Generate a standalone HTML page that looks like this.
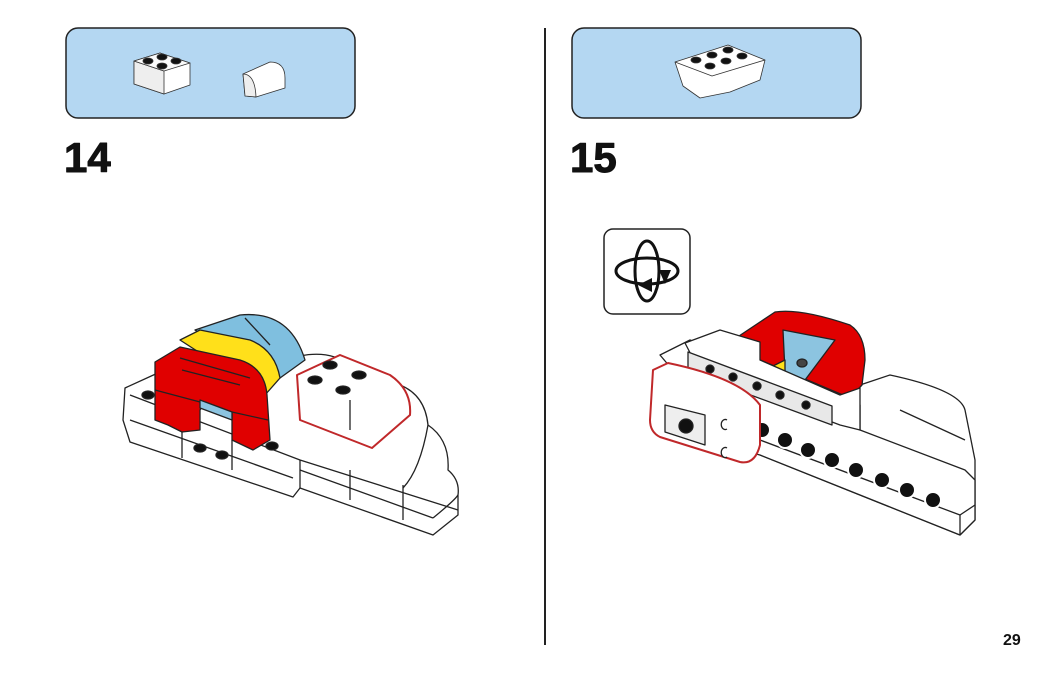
<!DOCTYPE html>
<html><head><meta charset="utf-8"><style>
html,body{margin:0;padding:0;background:#fff;}
svg{display:block;font-family:"Liberation Sans",sans-serif;}
</style></head><body>
<svg width="1050" height="673" viewBox="0 0 1050 673" xmlns="http://www.w3.org/2000/svg" stroke-linejoin="round">
<rect width="1050" height="673" fill="#fff"/>
<rect x="66" y="28" width="289" height="90" rx="12" fill="#b4d7f2" stroke="#222" stroke-width="1.5"/>
<rect x="572" y="28" width="289" height="90" rx="12" fill="#b4d7f2" stroke="#222" stroke-width="1.5"/>
<line x1="545" y1="28" x2="545" y2="645" stroke="#222" stroke-width="2"/>
<text x="64" y="172" font-size="42" font-weight="bold" fill="#111" stroke="#111" stroke-width="1">14</text>
<text x="570" y="172" font-size="42" font-weight="bold" fill="#111" stroke="#111" stroke-width="1">15</text>
<text x="1003" y="645" font-size="16" font-weight="bold" fill="#111">29</text>

<g stroke="#333" stroke-width="0.8">
<polygon points="134,61 160,53 190,63 190,85 164,94 134,84" fill="#fff"/>
<polygon points="134,61 164,71 164,94 134,84" fill="#eee"/>
<polygon points="134,61 160,53 190,63 164,71" fill="#fafafa"/>
<ellipse cx="148" cy="61" rx="5" ry="3" fill="#111"/><ellipse cx="162" cy="57" rx="5" ry="3" fill="#111"/>
<ellipse cx="162" cy="66" rx="5" ry="3" fill="#111"/><ellipse cx="176" cy="61" rx="5" ry="3" fill="#111"/>
<path d="M243,74 L270,62 Q285,62 285,78 L285,88 L256,97 L245,96 Z" fill="#fff"/>
<path d="M243,74 Q255,74 256,97 L245,96 Z" fill="#eee"/>
</g>
<g stroke="#333" stroke-width="0.8">
<polygon points="675,62 728,45 765,60 760,80 730,92 700,98 683,86" fill="#fff"/>
<polyline points="675,62 712,76 765,60" fill="none"/>
<ellipse cx="696" cy="60" rx="5" ry="3" fill="#111"/><ellipse cx="712" cy="55" rx="5" ry="3" fill="#111"/><ellipse cx="728" cy="50" rx="5" ry="3" fill="#111"/>
<ellipse cx="710" cy="66" rx="5" ry="3" fill="#111"/><ellipse cx="726" cy="61" rx="5" ry="3" fill="#111"/><ellipse cx="742" cy="56" rx="5" ry="3" fill="#111"/>
</g>

<!-- Model 14 -->
<g stroke="#222" stroke-width="1.3">
<path d="M125,388 L160,372 L300,356 Q330,350 350,365 L400,385 Q425,395 428,425 Q450,440 448,470 Q460,480 458,495 L458,515 L433,535 L300,488 L293,497 L130,442 L123,420 Z" fill="#fff"/>
<polyline points="130,395 300,460 458,510" fill="none"/>
<polyline points="130,420 293,478" fill="none"/>
<polyline points="300,470 433,518" fill="none"/>
<line x1="300" y1="460" x2="300" y2="488"/>
<line x1="350" y1="470" x2="350" y2="500"/>
<line x1="403" y1="485" x2="403" y2="520"/>
<line x1="182" y1="432" x2="182" y2="458"/>
<line x1="232" y1="440" x2="232" y2="470"/>
<path d="M403,488 Q420,470 428,425" fill="none"/>
<path d="M433,518 Q455,500 458,495" fill="none"/>
<path d="M195,330 L240,315 Q290,310 305,360 L280,378 Z" fill="#7fbfdf"/>
<path d="M180,340 L200,330 L250,340 Q275,350 280,378 L265,395 Z" fill="#ffe01a"/>
<line x1="245" y1="318" x2="270" y2="345"/>
<path d="M155,362 L180,347 L240,360 Q265,368 267,395 L270,440 L253,450 L232,440 L232,412 L205,402 L200,410 L200,430 L182,432 L168,425 L155,420 Z" fill="#e00000"/>
<polygon points="200,400 232,412 232,420 200,408" fill="#8cc4e0"/>
<line x1="180" y1="358" x2="250" y2="378"/>
<line x1="182" y1="370" x2="240" y2="385"/>
<line x1="155" y1="390" x2="200" y2="402"/>
<line x1="232" y1="412" x2="268" y2="420"/>
<path d="M297,375 L340,355 L390,375 Q412,390 410,415 L372,448 L300,420 Z" fill="#fff" stroke="#c0282a" stroke-width="2"/>
<line x1="350" y1="430" x2="350" y2="400"/>
<ellipse cx="330" cy="365" rx="7" ry="4" fill="#111"/><ellipse cx="359" cy="375" rx="7" ry="4" fill="#111"/>
<ellipse cx="315" cy="380" rx="7" ry="4" fill="#111"/><ellipse cx="343" cy="390" rx="7" ry="4" fill="#111"/>
<ellipse cx="148" cy="395" rx="6" ry="4" fill="#111"/>
<ellipse cx="200" cy="448" rx="6" ry="4" fill="#111"/>
<ellipse cx="222" cy="455" rx="6" ry="4" fill="#111"/>
<ellipse cx="272" cy="446" rx="6" ry="4" fill="#111"/>
</g>

<rect x="604" y="229" width="86" height="85" rx="9" fill="#fff" stroke="#222" stroke-width="1.5"/>
<g fill="none" stroke="#111" stroke-width="3">
<ellipse cx="647" cy="271" rx="31" ry="13"/>
<ellipse cx="647" cy="271" rx="12" ry="30"/>
</g>
<polygon points="659,270 671,270 665,284" fill="#111"/>
<polygon points="638,285 652,278 652,292" fill="#111"/>

<!-- Model 15 -->
<g stroke="#222" stroke-width="1.3">
<path d="M860,385 L890,375 Q960,390 965,410 L975,460 L975,520 L960,535 L760,455 L760,420 Z" fill="#fff"/>
<polygon points="660,355 690,340 860,405 860,430 965,470 975,480 975,520 960,535 760,455 740,450" fill="#fff"/>
<polyline points="760,440 960,515 975,505" fill="none"/>
<line x1="960" y1="515" x2="960" y2="535"/>
<line x1="900" y1="410" x2="965" y2="440" />
<path d="M736,338 L775,312 Q800,308 850,325 Q865,335 865,360 L862,385 L850,398 L760,360 Z" fill="#e00000"/>
<polygon points="783,330 835,340 805,380 785,372" fill="#8cc4e0"/>
<ellipse cx="802" cy="363" rx="5" ry="4" fill="#444"/>
<polygon points="765,370 785,360 785,372" fill="#ffe01a"/>
<polygon points="685,343 720,330 760,342 760,360 840,395 860,388 860,430 840,425 700,372" fill="#fff"/>
<polygon points="688,352 832,406 832,425 688,372" fill="#e8e8e8"/>
<g fill="#111">
<circle cx="710" cy="369" r="4"/><circle cx="733" cy="377" r="4"/><circle cx="757" cy="386" r="4"/><circle cx="780" cy="395" r="4"/><circle cx="806" cy="405" r="4"/>
</g>
<g fill="#111" stroke="#fff" stroke-width="2">
<circle cx="762" cy="430" r="8"/><circle cx="785" cy="440" r="8"/><circle cx="808" cy="450" r="8"/><circle cx="832" cy="460" r="8"/><circle cx="856" cy="470" r="8"/><circle cx="882" cy="480" r="8"/><circle cx="907" cy="490" r="8"/><circle cx="933" cy="500" r="8"/>
</g>
<path d="M653,370 L668,363 Q740,378 760,405 L760,445 Q755,465 740,462 L660,437 Q650,432 650,420 Z" fill="#fff" stroke="#c0282a" stroke-width="2"/>
<polygon points="665,405 705,415 705,445 665,432" fill="#eee" stroke="#222"/>
<circle cx="686" cy="426" r="7" fill="#111"/>
<path d="M727,420 a4,5 0 1 0 0,9" fill="#fff"/><path d="M727,448 a4,5 0 1 0 0,9" fill="#fff"/>
</g>
</svg>
</body></html>
